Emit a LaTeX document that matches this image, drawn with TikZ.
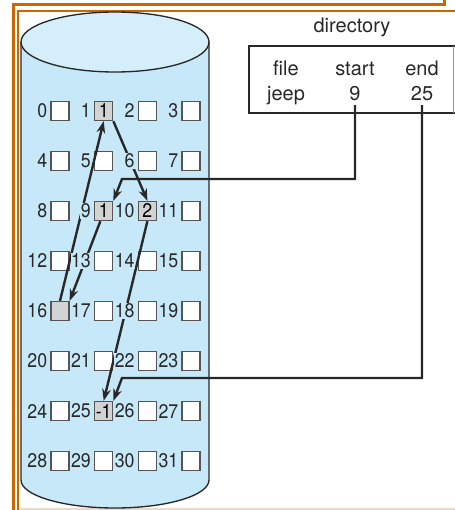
\documentclass[tikz,border=0pt]{standalone}
\usepackage{fontspec}
\setmainfont{TeX Gyre Heros}
\newfontfamily\blockfont[FakeStretch=0.9]{TeX Gyre Heros}
\usepackage{tikz}
\tikzset{every picture/.style={line width=0.75pt}}
\usetikzlibrary{arrows.meta}

\definecolor{diskblue}{RGB}{198,232,248}
\definecolor{disklid}{RGB}{212,238,250}
\definecolor{frameorange}{RGB}{204,102,0}
\definecolor{usedgray}{RGB}{211,211,211}
\definecolor{edgegray}{RGB}{85,85,85}
\definecolor{inkgray}{RGB}{40,40,40}

\tikzset{
  blk/.style={draw=edgegray, fill=white, line width=1pt, minimum width=13.5pt, minimum height=14.25pt, inner sep=0pt, font=\blockfont\fontsize{14.8}{14.8}\selectfont},
  usedblk/.style={blk, fill=usedgray},
  blklabel/.style={fill=diskblue, inner sep=0.4pt, anchor=east, text=inkgray, font=\blockfont\fontsize{14.8}{14.8}\selectfont},
  dirtext/.style={anchor=base, text=inkgray, font=\fontsize{15}{15}\selectfont},
  chain/.style={draw=inkgray, line width=1.8pt, -{Stealth[length=9pt,width=6.5pt]}},
}

\begin{document}
\begin{tikzpicture}[x=0.75pt,y=0.75pt,yscale=-1,xscale=1]
\useasboundingbox (0,0) rectangle (454,510);

% frame
\draw [color=frameorange, line width=2.25pt] (13.5,512) -- (13.5,4.5) -- (444,4.5) -- (444,-2) ;
\draw [color=frameorange, line width=1.5pt] (18,512) -- (18,11) -- (456,11) ;
\draw [color={rgb, 255:red, 236; green, 218; blue, 200 }, line width=1pt] (20,509) -- (456,509) ;

% disk
\draw [draw=inkgray, fill=diskblue, line width=1pt] (21,42) -- (21,480) arc [start angle=180, end angle=0, x radius=94, y radius=28] -- (209,42) ;
\draw [draw=inkgray, fill=disklid, line width=1pt] (115,42) ellipse [x radius=94, y radius=30] ;

% blocks
\foreach \n in {0,...,31}{
  \pgfmathtruncatemacro{\col}{mod(\n,4)}
  \pgfmathtruncatemacro{\row}{div(\n,4)}
  \node [blk] (b\n) at ({60+43.7*\col},{111+50*\row}) {};
}
\node [usedblk] (b1) at (b1.center) {1};
\node [usedblk] (b9) at (b9.center) {1};
\node [usedblk] (b10) at (b10.center) {2};
\node [usedblk] (b16) at (b16.center) {};
\node [usedblk] (b25) at (b25.center) {-1};

% directory
\node [dirtext] (dirtitle) at (352,33) {directory};
\node [dirtext] (hdrfile) at (286,75) {file};
\node [dirtext] (hdrstart) at (355,75) {start};
\node [dirtext] (hdrend) at (422,75) {end};
\node [dirtext] (valfile) at (286,100) {jeep};
\node [dirtext] (valstart) at (355,100) {9};
\node [dirtext] (valend) at (422,100) {25};
\draw [draw=inkgray, line width=1.8pt] (456,46) -- (249,46) -- (249,113) -- (456,113) ;
\draw [draw={rgb, 255:red, 150; green, 150; blue, 150 }] (453,46) -- (453,113) ;

% pointers
\coordinate (startbend) at (122,179);
\coordinate (endbend) at (122,378);
\draw [chain] (valstart.south) |- (startbend) -- (b9.north east) ;
\draw [chain] (valend.south) |- (endbend) -- (b25.north east) ;
\draw [chain] ([xshift=-2.5pt]b9.south) -- (b16.north east) ;
\draw [chain] (b16.north) -- (b1.south) ;
\draw [chain] (b1.south east) -- (b10.north) ;
\draw [chain] (b10.south) -- (b25.north) ;

% block numbers
\foreach \n in {0,...,31}{
  \node [blklabel] (l\n) at ([xshift=-1.6pt]b\n.west) {\n};
}
\end{tikzpicture}
\end{document}
